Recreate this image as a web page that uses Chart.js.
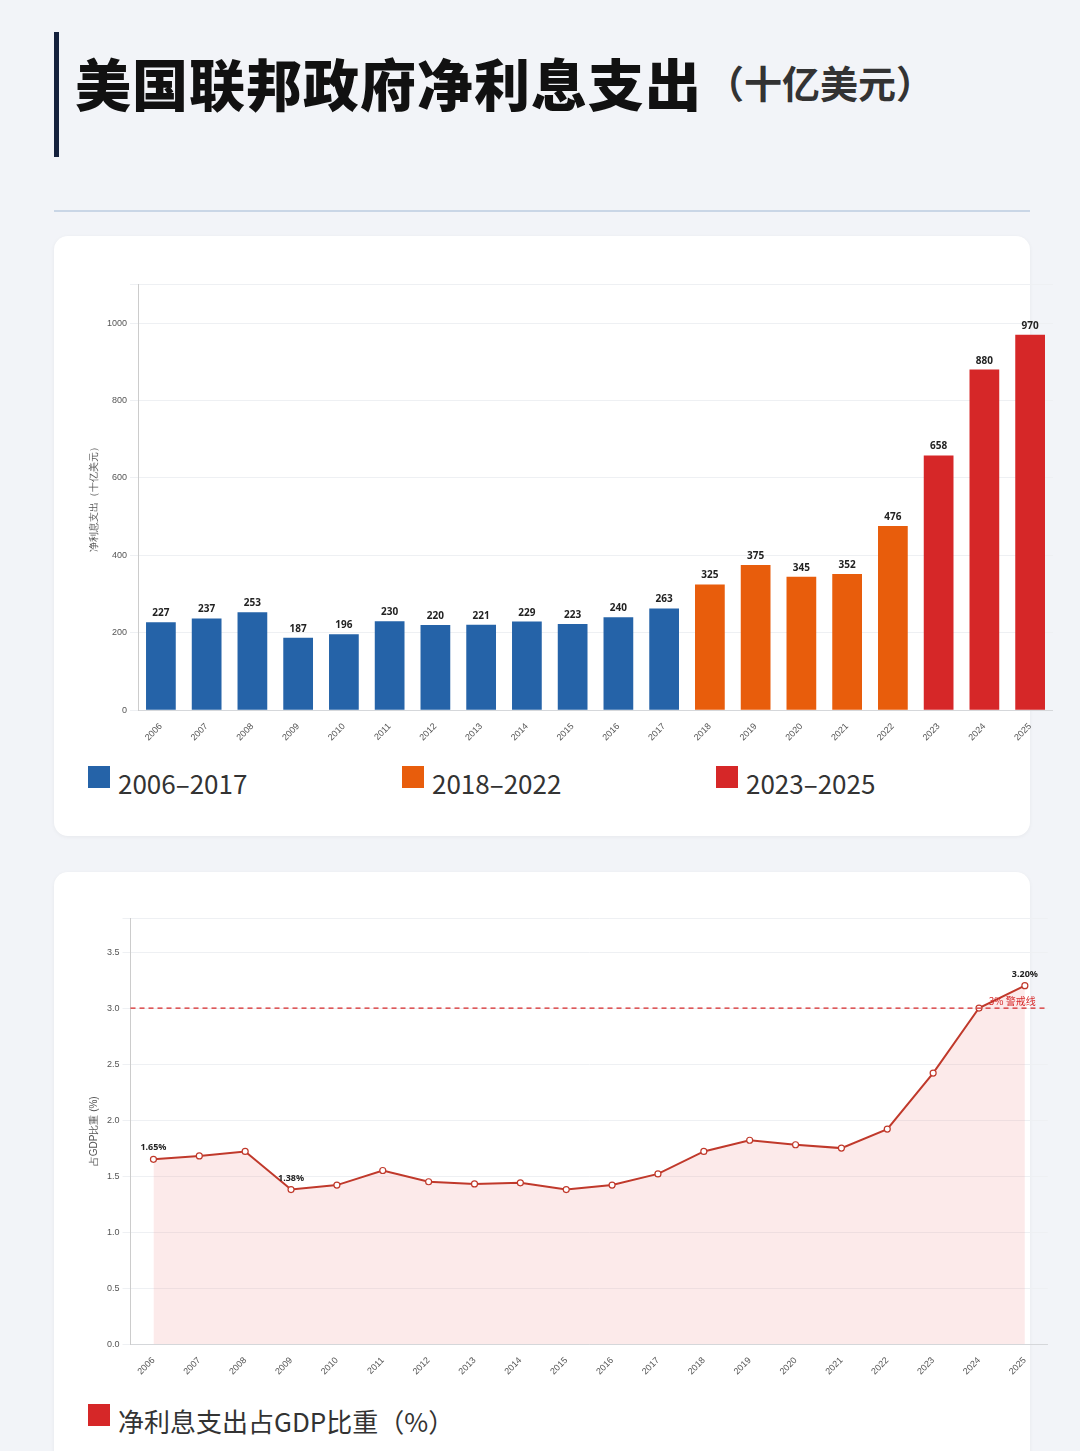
<!DOCTYPE html>
<html><head><meta charset="utf-8">
<script src="https://cdn.jsdelivr.net/npm/chart.js@4/dist/chart.umd.min.js"></script>
<style>
body{margin:0;width:1080px;height:1451px;background:#f2f4f8;font-family:"Noto Sans CJK SC","Noto Sans",sans-serif;overflow:hidden;position:relative}
#title{position:absolute;left:54px;top:32px;height:125px;border-left:5px solid #14213d;padding-left:16px;display:flex;align-items:flex-start}
#title h1{margin:12px 0 0 0;font-size:56px;font-weight:900;color:#111;letter-spacing:1px;line-height:76px}
#title span{font-size:38px;color:#333;font-weight:700;margin-left:4px;line-height:76px;margin-top:12px}
#rule{position:absolute;left:54px;top:210px;width:976px;height:2px;background:#c9d6e6}
.card{position:absolute;left:54px;width:976px;background:#fff;border-radius:14px;box-shadow:0 1px 4px rgba(0,0,0,.05)}
.legend{position:absolute;display:flex;font-size:26px;color:#333}
.legend div{display:flex;align-items:center}
.legend i{display:inline-block;width:22px;height:22px;margin-right:8px;margin-top:-12px}
.wrap{position:absolute;left:30px;width:969px;height:470px}
</style></head><body>
<div id="title"><h1>美国联邦政府净利息支出</h1><span>（十亿美元）</span></div>
<div id="rule"></div>
<div class="card" style="top:236px;height:600px">
  <div class="wrap" style="top:40px"><canvas id="c1"></canvas></div>
  <div class="legend" style="left:34px;top:528px">
    <div style="width:314px"><i style="background:#2563a8"></i>2006–2017</div>
    <div style="width:314px"><i style="background:#e85d0c"></i>2018–2022</div>
    <div><i style="background:#d62728"></i>2023–2025</div>
  </div>
</div>
<div class="card" style="top:872px;height:600px">
  <div class="wrap" style="top:38px"><canvas id="c2"></canvas></div>
  <div class="legend" style="left:34px;top:530px">
    <div><i style="background:#d62728"></i>净利息支出占GDP比重（%）</div>
  </div>
</div>
<script>
const years = ["2006","2007","2008","2009","2010","2011","2012","2013","2014","2015","2016","2017","2018","2019","2020","2021","2022","2023","2024","2025"];
const interest = [227,237,253,187,196,230,220,221,229,223,240,263,325,375,345,352,476,658,880,970];
const gdpShare = [1.65,1.68,1.72,1.38,1.42,1.55,1.45,1.43,1.44,1.38,1.42,1.52,1.72,1.82,1.78,1.75,1.92,2.42,3.0,3.2];
const labeledPoints = {0:"1.65%",3:"1.38%",19:"3.20%"};
const warnLevel = 3.0;

const barColors = years.map(y => +y <= 2017 ? "#2563a8" : +y <= 2022 ? "#e85d0c" : "#d62728");

const barLabels = {
  id: "barLabels",
  afterDatasetsDraw(chart) {
    const c = chart.ctx;
    c.save();
    c.font = "bold 10px 'Noto Sans'";
    c.fillStyle = "#222";
    c.textAlign = "center";
    chart.getDatasetMeta(0).data.forEach((b, i) => c.fillText(interest[i], b.x, b.y - 6));
    c.restore();
  }
};

new Chart(document.getElementById("c1"), {
  type: "bar",
  data: { labels: years, datasets: [{ data: interest, backgroundColor: barColors, barPercentage: 0.65, categoryPercentage: 1 }] },
  options: {
    responsive: true, maintainAspectRatio: false, animation: false,
    plugins: { legend: { display: false }, tooltip: { enabled: false } },
    scales: {
      x: { grid: { display: false }, ticks: { maxRotation: 45, minRotation: 45, color: "#555", font: { size: 9 } } },
      y: { min: 0, max: 1100, grid: { color: "#eef0f3" }, border: { color: "#ccc" },
           ticks: { stepSize: 200, color: "#555", font: { size: 9 }, callback: v => v <= 1000 ? v : "" },
           title: { display: true, text: "净利息支出（十亿美元）", color: "#555", font: { size: 10 } } }
    }
  },
  plugins: [barLabels]
});

const lineExtras = {
  id: "lineExtras",
  afterDatasetsDraw(chart) {
    const c = chart.ctx, y = chart.scales.y.getPixelForValue(warnLevel), a = chart.chartArea;
    c.save();
    c.strokeStyle = "#d62728"; c.setLineDash([5, 4]); c.lineWidth = 1.2;
    c.beginPath(); c.moveTo(a.left, y); c.lineTo(a.right, y); c.stroke();
    c.setLineDash([]);
    c.fillStyle = "#d62728"; c.font = "10px 'Noto Sans CJK SC'"; c.textAlign = "right";
    c.fillText("3% 警戒线", a.right - 12, y - 3);
    c.fillStyle = "#222"; c.font = "bold 9px 'Noto Sans'"; c.textAlign = "center";
    const pts = chart.getDatasetMeta(0).data;
    Object.keys(labeledPoints).forEach(i => c.fillText(labeledPoints[i], pts[i].x, pts[i].y - 9));
    c.restore();
  }
};

new Chart(document.getElementById("c2"), {
  type: "line",
  data: { labels: years, datasets: [{ data: gdpShare, borderColor: "#c0392b", borderWidth: 2, fill: true,
    backgroundColor: "rgba(240,150,150,0.2)", pointRadius: 3, pointBackgroundColor: "#fff", pointBorderColor: "#c0392b", pointBorderWidth: 1.2, tension: 0 }] },
  options: {
    responsive: true, maintainAspectRatio: false, animation: false,
    plugins: { legend: { display: false }, tooltip: { enabled: false } },
    scales: {
      x: { offset: true, grid: { display: false }, ticks: { maxRotation: 45, minRotation: 45, color: "#555", font: { size: 9 } } },
      y: { min: 0, max: 3.8, grid: { color: "#eef0f3" }, border: { color: "#ccc" },
           ticks: { stepSize: 0.5, color: "#555", font: { size: 9 }, callback: v => v <= 3.5 ? v.toFixed(1) : "" },
           title: { display: true, text: "占GDP比重 (%)", color: "#555", font: { size: 10 } } }
    }
  },
  plugins: [lineExtras]
});
</script>
</body></html>
